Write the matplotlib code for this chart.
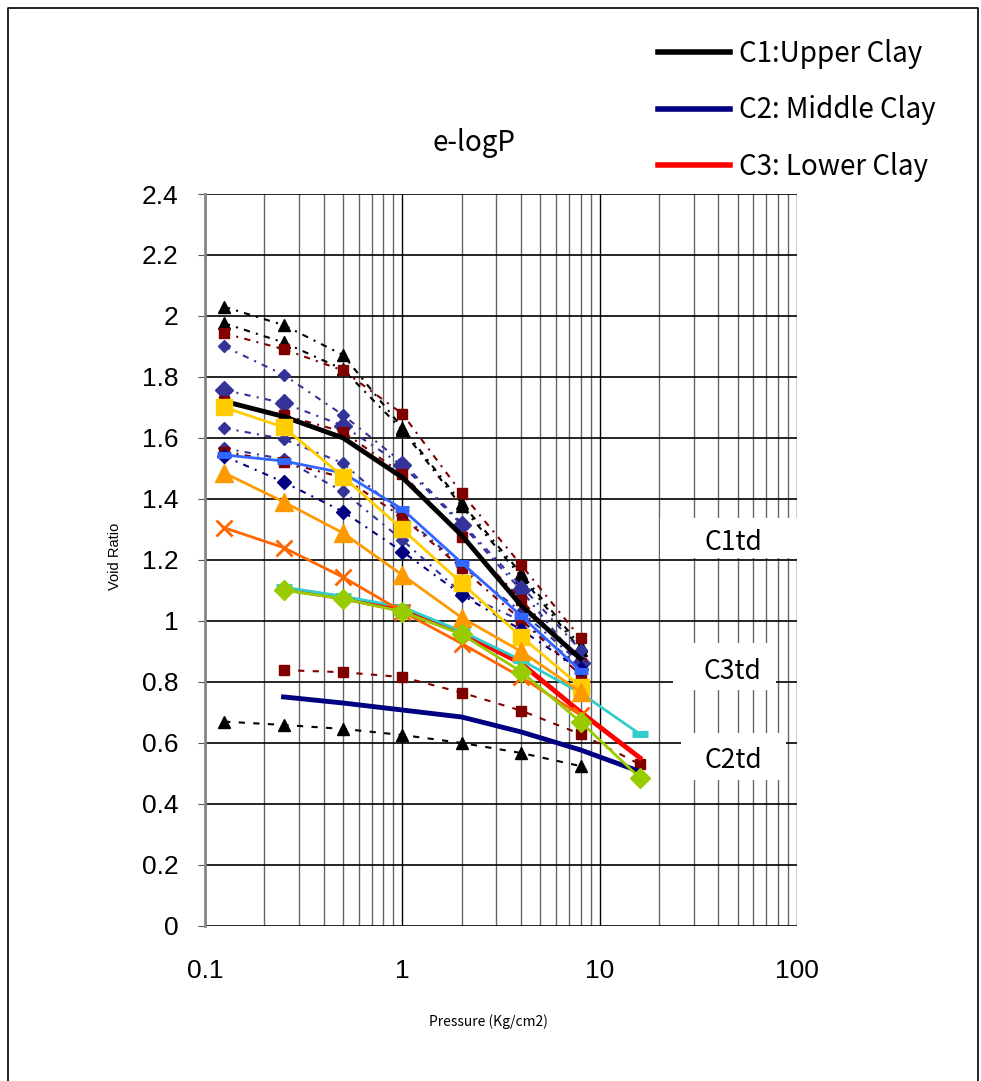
import matplotlib
matplotlib.use('Agg')
import matplotlib.pyplot as plt
from matplotlib.lines import Line2D
from matplotlib.patches import Rectangle
import numpy as np

# consolidation test pressures (Kg/cm2)
pressure = [0.125, 0.25, 0.5, 1, 2, 4, 8, 16]

# individual oedometer tests, void ratio at each load step (0.125 .. 8)
tri_a = [2.03, 1.97, 1.872, 1.633, 1.385, 1.155, 0.917]
tri_b = [1.976, 1.913, 1.825, 1.626, 1.375, 1.145, 0.905]
sq_a = [1.943, 1.891, 1.821, 1.679, 1.418, 1.183, 0.943]
dia_a = [1.90, 1.807, 1.675, 1.519, 1.32, 1.114, 0.904]
dia_big = [1.757, 1.714, 1.64, 1.51, 1.315, 1.10, 0.86]
sq_b = [1.72, 1.675, 1.62, 1.482, 1.276, 1.068, 0.86]
dia_b = [1.632, 1.596, 1.517, 1.347, 1.18, 1.03, 0.86]
dia_c = [1.566, 1.53, 1.424, 1.265, 1.09, 1.00, 0.85]
sq_c = [1.555, 1.52, 1.47, 1.34, 1.172, 1.003, 0.822]
dia_navy = [1.54, 1.455, 1.358, 1.227, 1.085, 0.97, 0.84]
tri_low = [0.669, 0.658, 0.645, 0.625, 0.599, 0.566, 0.523]
sq_low = [0.838, 0.831, 0.815, 0.764, 0.705, 0.628, 0.529]      # 0.25 .. 16

yellow_sq = [1.70, 1.635, 1.473, 1.30, 1.123, 0.948, 0.784]
orange_tri = [1.485, 1.39, 1.288, 1.15, 1.01, 0.899, 0.767]
orange_x = [1.305, 1.24, 1.143, 1.03, 0.925, 0.815, 0.69]
blue_dash = [1.544, 1.524, 1.485, 1.366, 1.19, 1.016, 0.836]
cyan_dash = [1.11, 1.08, 1.045, 0.965, 0.871, 0.763, 0.628]    # 0.25 .. 16
green_dia = [1.10, 1.072, 1.03, 0.955, 0.833, 0.668, 0.484]    # 0.25 .. 16

# representative curves for each clay layer
c1_upper = [1.72, 1.67, 1.60, 1.47, 1.28, 1.05, 0.875]         # 0.125 .. 8
c2_middle = [0.75, 0.73, 0.707, 0.684, 0.635, 0.576, 0.505]    # 0.25 .. 16
c3_lower = [1.105, 1.075, 1.035, 0.96, 0.86, 0.70, 0.55]       # 0.25 .. 16

layer_names = ['C1:Upper Clay', 'C2: Middle Clay', 'C3: Lower Clay']
layer_colors = ['black', '#000080', '#FF0000']
td_labels = ['C1td', 'C3td', 'C2td']

jp = ['Noto Sans CJK JP', 'DejaVu Sans']
arial = ['Liberation Sans', 'DejaVu Sans']

p_lo = pressure[:7]      # 0.125 .. 8
p_hi = pressure[1:]      # 0.25 .. 16

fig = plt.figure(figsize=(9.81, 10.81), dpi=100)
ax = fig.add_axes([205/981, 1 - 925.5/1081, 592/981, 731.5/1081])

dashdot = (0, (3, 3, 1, 3))
dashed = (0, (3, 4))

# dotted test curves
ax.plot(p_lo, tri_a, color='black', ls=dashdot, lw=1.5, marker='^', ms=9)
ax.plot(p_lo, tri_b, color='black', ls=dashdot, lw=1.5, marker='^', ms=9)
ax.plot(p_lo, sq_a, color='#800000', ls=dashdot, lw=1.5, marker='s', ms=7)
ax.plot(p_lo, dia_a, color='#333399', ls=dashdot, lw=1.5, marker='D', ms=6)
ax.plot(p_lo, dia_big, color='#333399', ls=dashdot, lw=1.5, marker='D', ms=9)
ax.plot(p_lo, sq_b, color='#800000', ls=dashdot, lw=1.5, marker='s', ms=7)
ax.plot(p_lo, dia_b, color='#333399', ls=dashdot, lw=1.5, marker='D', ms=6)
ax.plot(p_lo, dia_c, color='#333399', ls=dashdot, lw=1.5, marker='D', ms=6)
ax.plot(p_lo, sq_c, color='#800000', ls=dashdot, lw=1.5, marker='s', ms=7)
ax.plot(p_lo, dia_navy, color='#000080', ls=dashdot, lw=1.5, marker='D', ms=7)
ax.plot(p_lo, tri_low, color='black', ls=dashed, lw=1.5, marker='^', ms=9)
ax.plot(p_hi, sq_low, color='#800000', ls=dashed, lw=1.5, marker='s', ms=7)

# layer curves
ax.plot(p_lo, c1_upper, color=layer_colors[0], lw=3.5)
ax.plot(p_hi, c2_middle, color=layer_colors[1], lw=3.5)
ax.plot(p_hi, c3_lower, color=layer_colors[2], lw=3.5)

# solid test curves
ax.plot(p_hi, cyan_dash, color='#33CCCC', lw=2, marker='_', ms=12, mew=5)
ax.plot(p_lo, blue_dash, color='#3366FF', lw=2, marker='_', ms=10, mew=5)
ax.plot(p_lo, yellow_sq, color='#FFCC00', lw=2, marker='s', ms=12)
ax.plot(p_lo, orange_tri, color='#FF9900', lw=2, marker='^', ms=13)
ax.plot(p_lo, orange_x, color='#FF6600', lw=2, marker='x', ms=12, mew=2)
ax.plot(p_hi, green_dia, color='#99CC00', lw=2, marker='D', ms=10)

ax.set_xscale('log')
ax.set_xlim(0.1, 100)
ax.set_ylim(0, 2.4)
ax.set_yticks(np.arange(0, 2.41, 0.2))
ax.set_yticklabels(['%g' % round(v, 1) for v in np.arange(0, 2.41, 0.2)])
ax.set_xticks([0.1, 1, 10, 100])
ax.set_xticklabels(['0.1', '1', '10', '100'])
ax.set_axisbelow(True)
ax.grid(which='major', axis='y', color='black', lw=1.2)
ax.grid(which='minor', axis='x', color='#666666', lw=1)
ax.grid(which='major', axis='x', color='black', lw=1)
for s in ['top', 'right', 'bottom']:
    ax.spines[s].set_visible(False)
ax.spines['left'].set_color('#888888')
ax.spines['left'].set_linewidth(2)
ax.tick_params(axis='y', length=5, color='#555555', pad=14, labelsize=19)
ax.tick_params(axis='x', which='both', length=0, pad=24, labelsize=19)
for lab in ax.get_xticklabels() + ax.get_yticklabels():
    lab.set_family(arial)

# white tag boxes on the right side, in axes fraction
tag_boxes = [(0.7686, 0.5024, 0.2314, 0.0547),
             (0.7905, 0.3219, 0.1740, 0.0643),
             (0.8041, 0.1989, 0.1774, 0.0643)]
tag_pos = [(0.892, 0.5229), (0.890, 0.3479), (0.892, 0.2262)]
for (bx, by, bw, bh), (tx, ty), tag in zip(tag_boxes, tag_pos, td_labels):
    ax.add_patch(Rectangle((bx, by), bw, bh, transform=ax.transAxes,
                           facecolor='white', edgecolor='none', zorder=1))
    ax.text(tx, ty, tag, transform=ax.transAxes, ha='center', va='center',
            fontsize=19, family=jp, zorder=2)

fig.text(474/981, 1 - 143/1081, 'e-logP', ha='center', va='center',
         fontsize=20, family=jp)
fig.text(115/981, 1 - 556/1081, 'Void Ratio', rotation=90, ha='center',
         va='center', fontsize=10.5, family=arial)
fig.text(488/981, 1 - 1022/1081, 'Pressure (Kg/cm2)', ha='center',
         va='center', fontsize=10, family=jp)

handles = [Line2D([], [], color=c, lw=4) for c in layer_colors]
fig.legend(handles, layer_names, loc='upper left',
           bbox_to_anchor=(658/981, 1 - 39/1081), frameon=False,
           prop={'family': jp, 'size': 20}, handlelength=2.6,
           handletextpad=0.3, labelspacing=0.95, borderpad=0,
           borderaxespad=0)

# outer frame of the chart area
fx0, fx1, fy1 = 8/981, 978/981, 1 - 8/1081
fig.add_artist(Line2D([fx0, fx0, fx1, fx1], [0, fy1, fy1, 0],
                      transform=fig.transFigure, color='black', lw=1.2))

fig.savefig('out.png', dpi=100)
